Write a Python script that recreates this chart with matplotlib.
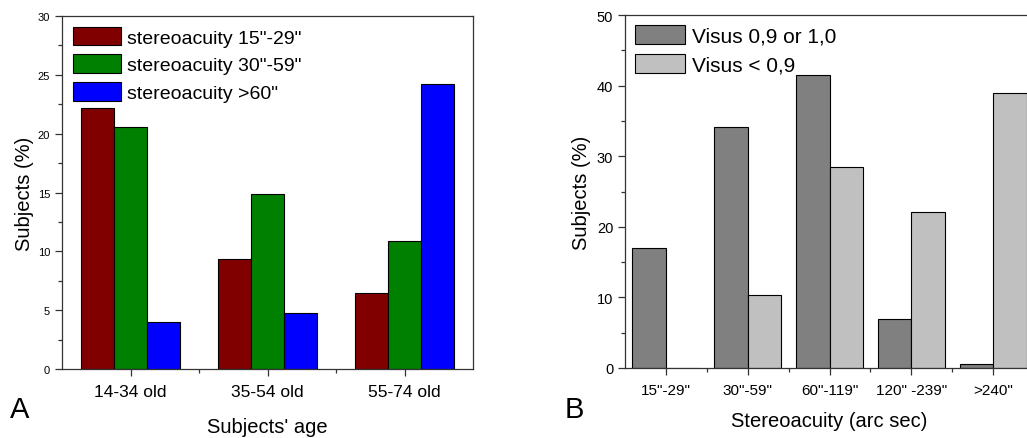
import numpy as np
import matplotlib
matplotlib.use('Agg')
import matplotlib.pyplot as plt
from matplotlib.ticker import MultipleLocator

plt.rcParams['font.family'] = ['Liberation Sans', 'DejaVu Sans']

# panel A data
age_groups = ['14-34 old', '35-54 old', '55-74 old']
stereo_15_29 = [22.2, 9.35, 6.5]
stereo_30_59 = [20.6, 14.9, 10.9]
stereo_60 = [4.0, 4.8, 24.2]
labels_a = ['stereoacuity 15"-29"', 'stereoacuity 30"-59"', 'stereoacuity >60"']

# panel B data
stereo_bins = ['15"-29"', '30"-59"', '60"-119"', '120" -239"', '>240"']
visus_good = [17.0, 34.1, 41.5, 6.9, 0.5]
visus_low = [0.0, 10.4, 28.5, 22.1, 38.9]
labels_b = ['Visus 0,9 or 1,0', 'Visus < 0,9']

W, H = 1027, 439
fig = plt.figure(figsize=(W / 100, H / 100), dpi=100)

def px_axes(x0, y0, x1, y1):
    return fig.add_axes([x0 / W, (H - y1) / H, (x1 - x0) / W, (y1 - y0) / H])

def style_axes(ax):
    for s in ax.spines.values():
        s.set_color('#333333')
        s.set_linewidth(0.9)
    ax.tick_params(which='both', direction='out', color='#333333', width=0.9)
    ax.tick_params(which='major', length=5)
    ax.tick_params(which='minor', length=3)

# ---- panel A
ax1 = px_axes(62, 17, 473, 370)
x = np.arange(len(age_groups))
w = 0.24
ax1.bar(x - w, stereo_15_29, w, color='#800000', edgecolor='black', linewidth=0.8, label=labels_a[0])
ax1.bar(x, stereo_30_59, w, color='#008000', edgecolor='black', linewidth=0.8, label=labels_a[1])
ax1.bar(x + w, stereo_60, w, color='#0000ff', edgecolor='black', linewidth=0.8, label=labels_a[2])
ax1.set_xlim(-0.5, 2.5)
ax1.set_ylim(0, 30)
ax1.yaxis.set_major_locator(MultipleLocator(5))
ax1.yaxis.set_minor_locator(MultipleLocator(2.5))
ax1.set_xticks(x)
ax1.set_xticklabels(age_groups, fontsize=12.5)
ax1.set_xticks(x[:-1] + 0.5, minor=True)
ax1.tick_params(axis='y', labelsize=8)
ax1.tick_params(axis='x', which='major', pad=6)
style_axes(ax1)
ax1.set_xlabel("Subjects' age", fontsize=14.5, labelpad=13)
ax1.set_ylabel('Subjects (%)', fontsize=14.5, labelpad=3)
ax1.legend(loc='upper left', frameon=False, fontsize=14, handlelength=2.5, handleheight=1.1,
           handletextpad=0.3, labelspacing=0.4, borderaxespad=0.25, borderpad=0.3)
fig.text(10 / W, 1 - 410 / H, 'A', fontsize=21, va='center')

# ---- panel B
ax2 = px_axes(625, 16, 1034, 369)
xb = np.arange(len(stereo_bins))
wb = 0.41
ax2.bar(xb - wb / 2, visus_good, wb, color='#808080', edgecolor='black', linewidth=0.8, label=labels_b[0])
ax2.bar(xb + wb / 2, visus_low, wb, color='#c0c0c0', edgecolor='black', linewidth=0.8, label=labels_b[1])
ax2.set_xlim(-0.5, 4.5)
ax2.set_ylim(0, 50)
ax2.yaxis.set_major_locator(MultipleLocator(10))
ax2.yaxis.set_minor_locator(MultipleLocator(5))
ax2.set_xticks(xb)
ax2.set_xticklabels(stereo_bins, fontsize=11)
ax2.set_xticks(xb[:-1] + 0.5, minor=True)
ax2.tick_params(axis='y', labelsize=10.5)
ax2.tick_params(axis='x', which='major', pad=6)
style_axes(ax2)
ax2.set_xlabel('Stereoacuity (arc sec)', fontsize=14.5, labelpad=10)
ax2.set_ylabel('Subjects (%)', fontsize=14.5, labelpad=4)
ax2.legend(loc='upper left', frameon=False, fontsize=15, handlelength=2.4, handleheight=1.0,
           handletextpad=0.3, labelspacing=0.4, borderaxespad=0.3, borderpad=0.2)
fig.text(565 / W, 1 - 410 / H, 'B', fontsize=21, va='center')

fig.savefig('out.png', dpi=100)
